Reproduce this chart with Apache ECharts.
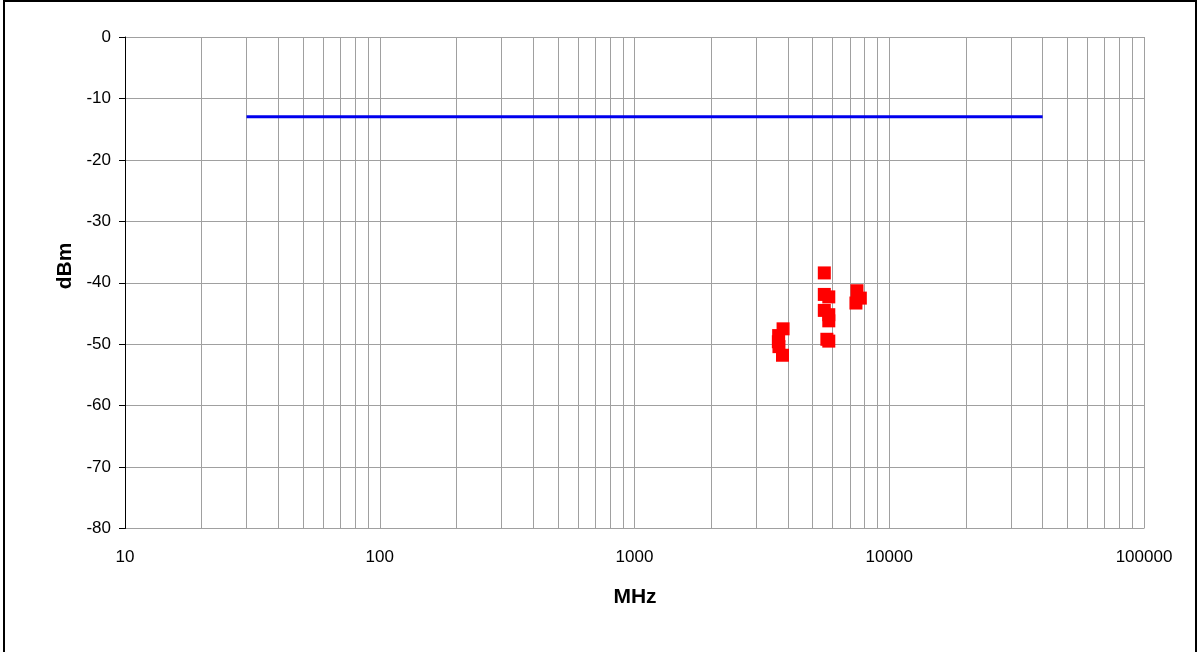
<!DOCTYPE html>
<html>
<head>
<meta charset="utf-8">
<script src="https://cdn.jsdelivr.net/npm/echarts@6/dist/echarts.min.js"></script>
<style>
html,body{margin:0;padding:0;background:#fff;}
#chart{width:1198px;height:652px;}
</style>
</head>
<body>
<div id="chart"></div>
<script>
// Limit line (MHz, dBm)
const limitLine = [[30, -13], [40000, -13]];
// Measured emissions (MHz, dBm)
const emissions = [
  [3830, -47.5], [3680, -48.6], [3670, -49.6], [3690, -50.4], [3810, -51.8],
  [5560, -38.4], [5560, -41.9], [5790, -42.3], [5560, -44.5], [5790, -45.2],
  [5790, -46.2], [5690, -49.2], [5790, -49.5],
  [7470, -41.3], [7700, -42.5], [7400, -43.3]
];
// Minor (logarithmic) grid positions
const minorTicks = [20,30,40,50,60,70,80,90,200,300,400,500,600,700,800,900,
  2000,3000,4000,5000,6000,7000,8000,9000,20000,30000,40000,50000,60000,70000,80000,90000];
const xTickLabels = ['10','100','1000','10000','100000'];

const font = 'Liberation Sans, Arial, sans-serif';
const chart = echarts.init(document.getElementById('chart'), null, {renderer: 'canvas'});
chart.setOption({
  animation: false,
  backgroundColor: '#fff',
  grid: {left: 125, right: 54, top: 37, bottom: 123.5, containLabel: false},
  xAxis: {
    type: 'log', logBase: 10, min: 10, max: 100000,
    axisLine: {show: false},
    axisTick: {show: false},
    axisLabel: {
      color: '#000', fontFamily: font, fontSize: 17, margin: 20,
      formatter: function (v) { return xTickLabels[Math.round(Math.log10(v)) - 1]; }
    },
    splitLine: {show: true, lineStyle: {color: '#a0a0a0', width: 1}}
  },
  yAxis: {
    type: 'value', min: -80, max: 0, interval: 10,
    axisLine: {show: true, onZero: false, lineStyle: {color: '#000', width: 1}},
    axisTick: {show: true, inside: false, length: 6, lineStyle: {color: '#000'}},
    axisLabel: {color: '#000', fontFamily: font, fontSize: 17, margin: 14},
    splitLine: {show: true, lineStyle: {color: '#a0a0a0', width: 1}}
  },
  graphic: [
    {type: 'rect', shape: {x: 4, y: 1, width: 1192, height: 662}, style: {fill: 'none', stroke: '#000', lineWidth: 2}, silent: true},
    {type: 'text', x: 65, y: 266, rotation: Math.PI / 2, style: {text: 'dBm', font: 'bold 21px ' + font, fill: '#000', align: 'center', verticalAlign: 'middle'}},
    {type: 'text', x: 635, y: 597, style: {text: 'MHz', font: 'bold 21px ' + font, fill: '#000', align: 'center', verticalAlign: 'middle'}}
  ],
  series: [
    {
      type: 'line', data: [], silent: true, z: 0,
      markLine: {
        silent: true, symbol: ['none', 'none'], animation: false, z: 0,
        label: {show: false},
        lineStyle: {color: '#a0a0a0', width: 1, type: 'solid'},
        emphasis: {disabled: true},
        data: minorTicks.map(v => ({xAxis: v}))
      }
    },
    {
      type: 'line', data: limitLine, symbol: 'none', silent: true, z: 4,
      lineStyle: {color: '#0000ee', width: 3}
    },
    {
      type: 'scatter', data: emissions, symbol: 'rect', symbolSize: 13, z: 6,
      itemStyle: {color: '#ff0000', opacity: 1}, silent: true
    }
  ]
});
</script>
</body>
</html>
